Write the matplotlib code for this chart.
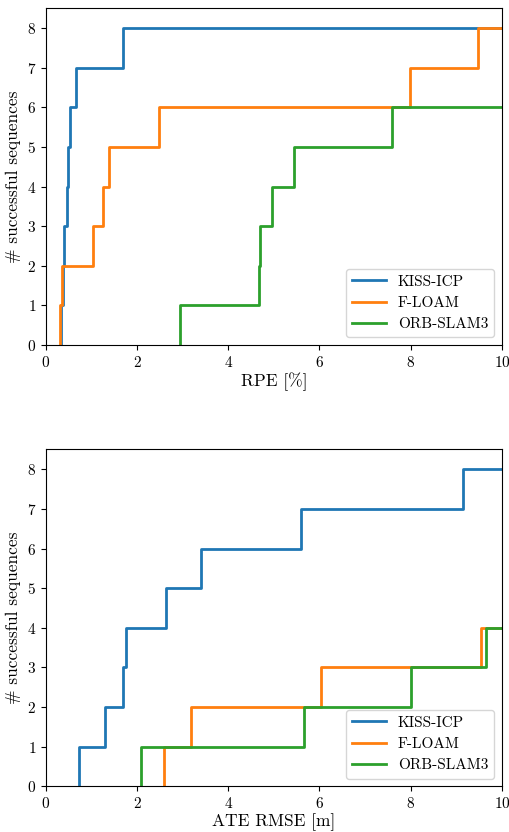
import numpy as np
import matplotlib
matplotlib.use('Agg')
import matplotlib.pyplot as plt

plt.rcParams['font.family'] = 'serif'
plt.rcParams['font.serif'] = ['cmr10']
plt.rcParams['mathtext.fontset'] = 'cm'
plt.rcParams['axes.formatter.use_mathtext'] = True

methods = ['KISS-ICP', 'F-LOAM', 'ORB-SLAM3']
colors = ['#1f77b4', '#ff7f0e', '#2ca02c']

# per-sequence errors (only the ones inside the x range)
rpe_kiss = [0.34, 0.37, 0.40, 0.47, 0.48, 0.52, 0.67, 1.70]
rpe_floam = [0.31, 0.35, 1.04, 1.26, 1.38, 2.49, 7.98, 9.47]
rpe_orb = [2.95, 4.67, 4.70, 4.96, 5.44, 7.58]

ate_kiss = [0.73, 1.30, 1.70, 1.76, 2.63, 3.41, 5.60, 9.15]
ate_floam = [2.59, 3.19, 6.04, 9.54]
ate_orb = [2.08, 5.66, 8.00, 9.65]

xmax = 10

fig, axes = plt.subplots(2, 1, figsize=(5.09, 8.32), dpi=100)
fig.subplots_adjust(left=0.09, right=0.986, top=0.99, bottom=0.055, hspace=0.31)


def cum_plot(ax, data, xlabel):
    for name, errs, c in zip(methods, data, colors):
        e = np.sort(errs)
        x = np.concatenate([e, [xmax]])
        y = np.arange(len(e) + 1)
        ax.step(x, y, where='pre', color=c, lw=2, label=name)
    ax.set_xlim(0, xmax)
    ax.set_ylim(0, 8.5)
    ax.set_xticks(np.arange(0, 11, 2))
    ax.set_yticks(np.arange(0, 9, 1))
    ax.tick_params(labelsize=11)
    ax.set_xlabel(xlabel, fontsize=12.5, labelpad=2)
    ax.set_ylabel('# successful sequences', fontsize=12.5)
    ax.legend(loc='lower right', fontsize=11, handlelength=2.2)


cum_plot(axes[0], [rpe_kiss, rpe_floam, rpe_orb], 'RPE [%]')
cum_plot(axes[1], [ate_kiss, ate_floam, ate_orb], 'ATE RMSE [m]')

plt.savefig('out.png', dpi=100)
